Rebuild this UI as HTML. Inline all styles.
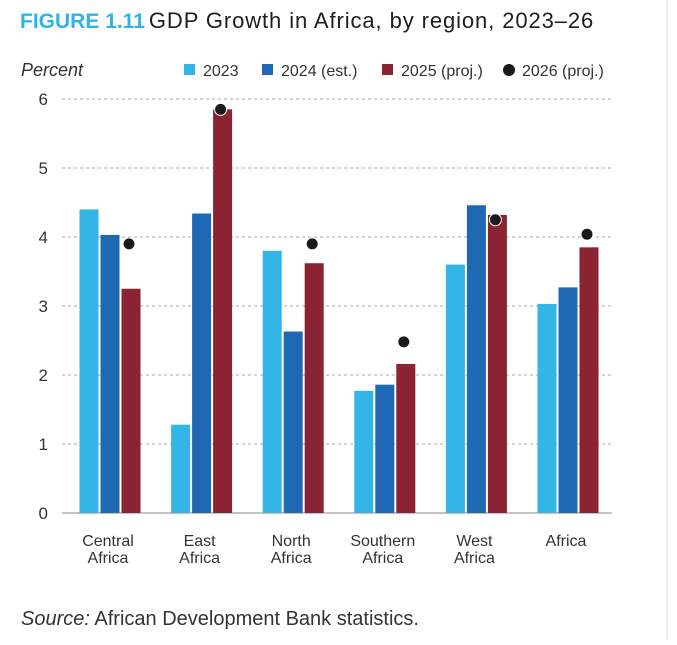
<!DOCTYPE html>
<html><head><meta charset="utf-8"><style>
body{margin:0;background:#fff;width:677px;height:640px;overflow:hidden;font-family:"Liberation Sans",sans-serif}
</style></head><body>
<svg width="677" height="640" font-family="Liberation Sans, sans-serif">
<line x1="667" y1="0" x2="667" y2="640" stroke="#ddd"/>
<text x="20" y="28" font-size="21"><tspan fill="#2fb4e3" font-weight="bold">FIGURE 1.11</tspan><tspan fill="#1e1e1e" font-weight="normal" font-size="22" letter-spacing="0.9" dx="4">GDP Growth in Africa, by region, 2023–26</tspan></text>
<text x="21" y="76" font-size="18" font-style="italic" fill="#333">Percent</text>
<g id="legend" font-size="16" fill="#333">
<rect x="184" y="64" width="11" height="11" fill="#33b5e5"/><text x="203" y="76">2023</text>
<rect x="262" y="64" width="11" height="11" fill="#1f68b3"/><text x="281" y="76">2024 (est.)</text>
<rect x="382" y="64" width="11" height="11" fill="#8b2332"/><text x="401" y="76">2025 (proj.)</text>
<circle cx="509" cy="70" r="6" fill="#1a1a1a"/><text x="522" y="76">2026 (proj.)</text>
</g>
<g id="grid"></g><g id="bars"></g>
<text x="21" y="625" font-size="20" fill="#333"><tspan font-style="italic">Source:</tspan> African Development Bank statistics.</text>
</svg>
<script>
const categories=[["Central","Africa"],["East","Africa"],["North","Africa"],["Southern","Africa"],["West","Africa"],["Africa"]];
const v2023=[4.4,1.28,3.8,1.77,3.6,3.03];
const v2024=[4.03,4.34,2.63,1.86,4.46,3.27];
const v2025=[3.25,5.85,3.62,2.16,4.32,3.85];
const v2026=[3.9,5.85,3.9,2.48,4.25,4.04];
const ticks=[0,1,2,3,4,5,6];
const NS="http://www.w3.org/2000/svg";
const y=v=>513-v*69;
const cx=i=>110+i*91.6;
function mk(t,a,p){const e=document.createElementNS(NS,t);for(const k in a)e.setAttribute(k,a[k]);p.appendChild(e);return e;}
const g=document.getElementById('grid'),b=document.getElementById('bars');
ticks.forEach(t=>{
 const l=mk('line',{x1:62,x2:612,y1:y(t),y2:y(t),stroke:t?'#aaa':'#888','stroke-dasharray':t?'3,3':'none'},g);
 
 
 const tx=mk('text',{x:48,y:y(t)+6,'font-size':17,fill:'#333','text-anchor':'end'},g);tx.textContent=t;
 
 
});
const series=[[v2023,'#33b5e5',-21],[v2024,'#1f68b3',0],[v2025,'#8b2332',21]];
categories.forEach((c,i)=>{
 series.forEach(([d,col,off])=>{
  const r=mk('rect',{x:cx(i)+off-9.5,y:y(d[i]),width:19,height:y(0)-y(d[i]),fill:col},b);
  
  
 });
 const ci=mk('circle',{cx:cx(i)+19,cy:y(v2026[i]),r:6,fill:'#1a1a1a',stroke:'#fff','stroke-width':1},b);
 
 
 c.forEach((s,k)=>{const t=mk('text',{x:cx(i)-2,y:546+k*17,'font-size':16,fill:'#333','text-anchor':'middle'},b);t.textContent=s;
 
 });
});
</script>
</body></html>
